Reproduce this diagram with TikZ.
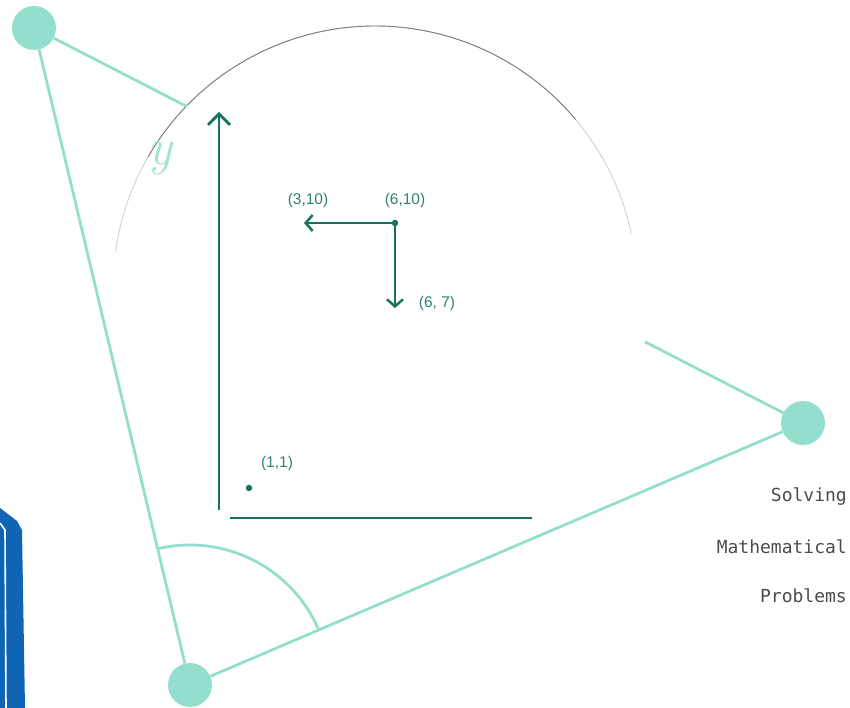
\documentclass[tikz,border=0pt]{standalone}
\usepackage{fontspec}
\setsansfont{Liberation Sans}
\setmonofont{DejaVu Sans Mono}
\usetikzlibrary{arrows.meta,calc}
\definecolor{mint}{RGB}{148,222,206}
\definecolor{deepteal}{RGB}{22,115,95}
\definecolor{labteal}{RGB}{50,128,118}
\definecolor{arcgray}{RGB}{125,125,125}
\definecolor{arclight}{RGB}{205,205,205}
\definecolor{bookblue}{RGB}{15,100,180}
\definecolor{txtgray}{RGB}{75,75,75}
\tikzset{
  mintdot/.style={circle, fill=mint, minimum size=44pt, inner sep=0pt},
  mintline/.style={draw=mint, line width=2.8pt},
  axisline/.style={draw=deepteal, line width=2.8pt},
  vecline/.style={draw=deepteal, line width=2.5pt, -{Straight Barb[length=7pt,width=16pt,line width=2.5pt]}},
  ptdot/.style={circle, fill=deepteal, minimum size=6.5pt, inner sep=0pt},
  coordlab/.style={text=labteal, font=\sffamily\fontsize{15.5}{17}\selectfont, inner sep=0pt},
  monolab/.style={text=txtgray, font=\ttfamily\fontsize{18}{20}\selectfont, anchor=east, inner sep=0pt}
}
\begin{document}
\begin{tikzpicture}[x=1pt,y=1pt]
\useasboundingbox (0,0) rectangle (850,708);
% blue book edge
\fill[bookblue] (0,200) -- (17,187) -- (22,178) -- (25,0) -- (0,0) -- cycle;
\draw[white, line width=1.6pt] (0,185) -- (5,178) -- (6,0);
% big arc
\coordinate (ac) at (375,420);
\draw[arclight, line width=0.8pt] ($(ac)+(172:262)$) arc[start angle=172, end angle=12, radius=262];
\draw[arcgray, line width=0.9pt] ($(ac)+(150:262)$) arc[start angle=150, end angle=40, radius=262];
% faint y
\node[text=mint!85, font=\itshape\fontsize{52}{52}\selectfont] (ylab) at (160,550) {y};
% triangle vertices
\node[mintdot] (tl) at (34,680) {};
\node[mintdot] (rv) at (803,285) {};
\node[mintdot] (bv) at (190,23) {};
\coordinate (tlcut) at ($(tl.center)!0.199!(rv.center)$);
\coordinate (rvcut) at ($(tl.center)!0.7945!(rv.center)$);
\draw[mintline] (tl) -- (bv);
\draw[mintline] (bv) -- (rv);
\draw[mintline] (tl) -- (tlcut);
\draw[mintline] (rvcut) -- (rv);
% angle arc at bottom vertex
\draw[mintline] ($(bv.center)+(103.4:140)$) arc[start angle=103.4, end angle=23.1, radius=140];
% axes
\coordinate (vbot) at (219,198);
\coordinate (vtop) at (219,596);
\coordinate (hl) at (230,190);
\coordinate (hr) at (532,190);
\draw[axisline, -{Straight Barb[length=11pt,width=22pt,line width=2.8pt]}] (vbot) -- (vtop);
\draw[axisline] (hl) -- (hr);
% points
\node[ptdot] (p11) at (249,220) {};
\node[coordlab] (l11) at (277,245) {(1,1)};
\node[ptdot] (p610) at (395,485) {};
\coordinate (p310) at (304,485);
\coordinate (p67) at (395,400);
\draw[vecline] (p610.center) -- (p310);
\draw[vecline] (p610.center) -- (p67);
\node[coordlab] (l310) at (308,508) {(3,10)};
\node[coordlab] (l610) at (405,508) {(6,10)};
\node[coordlab] (l67) at (437,405) {(6, 7)};
% side text
\node[monolab] (t1) at (847,211) {Solving};
\node[monolab] (t2) at (847,161) {Mathematical};
\node[monolab] (t3) at (847,112) {Problems};
\end{tikzpicture}
\end{document}
